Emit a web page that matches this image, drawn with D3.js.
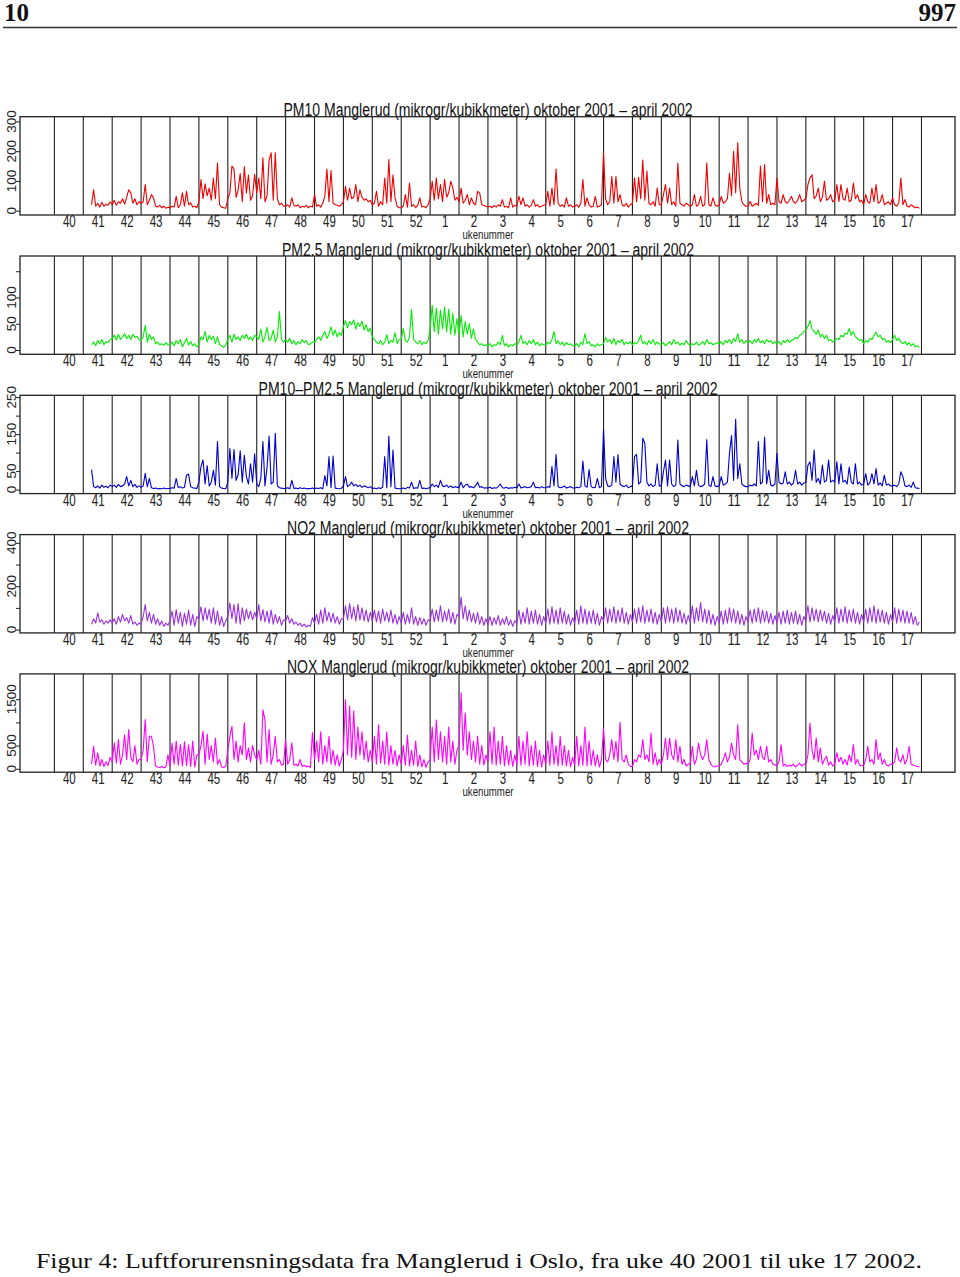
<!DOCTYPE html>
<html><head><meta charset="utf-8">
<script src="https://cdn.jsdelivr.net/npm/d3@7"></script>
<style>
html,body{margin:0;padding:0;background:#fff;}
svg{display:block;}
</style></head>
<body>
<svg id="chart" width="960" height="1277"></svg>
<script>
// ---------- DATA (half-day readings, first week starts mid-week) ----------
const weekLabels = [40,41,42,43,44,45,46,47,48,49,50,51,52,1,2,3,4,5,6,7,8,9,10,11,12,13,14,15,16,17];

const pm10 = [
20,70,15,25,12,28,15,22,18,30,
20,35,18,30,25,40,22,45,70,60,25,40,20,30,
25,30,88,20,35,54,43,15,12,18,10,15,8,12,
10,15,12,48,10,20,60,15,65,20,26,12,15,10,
30,105,40,90,50,76,35,110,40,160,20,12,10,8,
40,60,150,140,45,70,125,30,148,60,120,35,50,122,
60,110,40,178,30,50,170,195,35,195,40,20,25,15,
15,20,12,43,18,15,20,10,15,12,18,10,15,12,
54,15,20,12,25,48,140,30,135,25,20,18,15,20,
30,82,35,76,40,45,88,30,70,45,35,40,30,35,
20,25,65,15,30,20,110,25,172,30,120,43,15,10,
10,15,54,12,93,15,20,10,18,43,12,15,10,20,
40,99,35,110,40,88,30,105,45,60,99,76,35,45,
30,76,25,35,54,20,43,25,20,65,60,20,18,15,
12,15,10,18,12,20,15,37,12,15,10,43,12,18,
15,48,20,43,15,20,12,18,37,15,20,12,15,18,
20,65,15,76,20,140,25,15,20,12,43,15,20,12,
15,20,12,25,105,15,43,20,12,15,48,12,15,20,
195,40,20,30,115,25,115,30,54,20,15,25,12,20,
25,110,30,112,40,170,35,133,25,20,30,15,76,20,
20,54,88,25,76,20,30,15,160,25,20,15,25,20,
15,20,54,15,20,48,15,20,160,20,15,43,20,15,
20,48,25,30,40,126,50,200,60,228,76,30,20,15,
15,31,15,20,25,18,150,30,155,25,54,20,25,20,
110,30,25,54,30,25,35,48,30,25,35,54,30,35,
40,88,110,121,40,50,76,30,45,99,35,40,54,30,
35,88,30,88,40,35,76,30,35,93,40,54,30,35,
20,54,30,25,76,30,88,25,30,54,20,25,30,20,
43,20,15,25,110,20,37,15,12,20,15,10,12,8];

const pm25 = [
10,15,8,18,12,20,10,16,14,20,
22,28,19,30,20,25,31,22,28,20,30,24,26,20,
18,25,47,15,30,20,25,12,15,10,12,9,14,10,
10,15,8,18,12,20,6,14,22,10,16,8,12,6,
10,25,20,35,15,28,20,26,12,25,10,8,5,10,
20,28,15,30,20,25,18,28,22,30,20,25,18,28,
25,20,40,15,25,43,18,22,38,15,25,73,20,15,
20,15,22,12,18,10,16,12,20,14,18,10,12,15,
15,20,25,18,28,35,22,30,44,28,38,25,33,28,
45,56,42,54,48,57,40,52,45,55,38,48,35,42,
25,20,15,12,18,10,15,29,12,18,15,33,12,20,
20,41,18,15,25,77,20,15,12,18,10,15,12,18,
40,85,35,80,30,76,40,82,35,78,30,70,28,60,
30,66,25,54,30,50,22,40,20,15,10,12,8,10,
8,12,6,10,9,15,10,28,8,12,6,10,8,12,
10,15,28,12,16,10,18,12,20,10,15,8,12,10,
10,15,12,20,35,12,18,10,15,8,14,10,12,8,
8,12,6,15,10,31,12,16,8,10,6,12,8,10,
12,24,15,20,12,22,10,18,14,20,10,15,12,16,
10,14,12,18,28,12,16,10,18,12,20,10,15,12,
10,14,8,12,16,10,20,12,15,9,13,10,18,12,
8,12,10,15,9,12,16,10,20,12,14,10,12,14,
12,16,10,18,14,20,12,22,16,31,15,20,12,18,
14,18,12,20,15,22,14,18,12,20,15,18,12,16,
12,16,10,18,14,20,15,18,20,24,22,28,30,35,
38,45,56,40,35,30,38,25,30,22,28,18,20,15,
18,22,20,28,25,32,30,41,28,35,25,22,18,20,
12,18,15,22,20,28,34,25,28,20,22,15,18,14,
20,28,18,22,15,12,16,10,14,8,12,6,8,5];

const pmCoarse = [
54,8,5,10,4,12,6,9,5,12,
8,12,6,14,8,10,15,35,10,25,8,14,6,10,
6,10,44,8,30,5,3,4,2,3,2,4,2,3,
3,5,4,30,5,8,4,6,39,42,8,5,4,3,
20,62,80,15,65,10,20,52,12,130,8,4,3,2,
20,111,30,108,25,40,105,20,93,35,15,70,20,97,
15,8,30,130,10,60,145,15,20,152,10,5,4,3,
3,5,2,25,3,4,2,5,3,4,2,3,2,4,
2,4,3,5,2,38,10,89,5,91,4,3,2,3,
10,35,8,12,20,10,14,8,12,6,10,8,5,8,
3,4,2,5,3,6,89,5,145,8,107,4,3,2,
3,4,2,6,4,20,3,5,4,25,3,4,2,4,
5,15,8,12,6,25,10,8,12,6,10,5,8,6,
6,20,5,12,15,6,8,5,10,20,6,8,4,5,
4,6,3,5,4,8,15,5,4,6,3,5,4,6,
5,15,4,6,8,5,6,8,20,5,6,4,8,5,
5,8,6,62,10,95,8,5,6,10,4,6,8,5,
4,6,5,8,77,10,6,54,8,5,6,30,5,8,
163,30,10,8,12,89,20,95,15,10,8,12,5,8,
10,89,95,15,20,139,125,20,10,15,8,12,70,10,
10,48,80,10,80,15,8,12,134,15,10,8,12,10,
8,35,10,52,12,8,10,15,135,12,8,35,10,8,
10,35,12,15,20,98,146,25,190,30,70,15,10,8,
8,12,10,15,10,130,15,20,142,15,52,12,10,15,
98,20,15,18,48,15,20,12,18,52,15,20,12,18,
20,66,75,25,107,20,30,15,66,20,25,80,20,25,
20,75,15,70,20,25,15,61,20,15,70,15,20,12,
15,43,12,18,43,15,57,12,18,10,39,12,15,10,
10,12,8,15,48,35,10,8,12,6,20,5,4,3];

const no2 = [
25,50,30,77,35,45,25,40,30,45,
30,50,25,60,35,70,40,55,30,65,25,35,20,30,
25,60,115,40,80,30,70,25,50,20,40,15,30,20,
40,85,20,92,30,80,15,75,25,90,20,70,15,60,
50,105,40,100,45,95,30,100,25,85,20,60,15,40,
60,123,50,115,30,120,25,100,40,95,50,85,45,80,
50,115,40,92,35,85,30,90,25,70,30,60,20,45,
40,65,30,50,25,35,20,30,15,25,12,20,15,55,
30,70,25,90,30,100,40,80,35,75,30,60,25,50,
50,110,45,120,50,105,40,115,45,100,40,90,35,80,
40,90,35,85,30,95,40,80,35,90,30,70,25,60,
30,80,25,70,30,100,25,60,20,55,25,50,20,45,
40,95,35,90,40,110,35,85,40,95,30,80,25,70,
60,150,50,110,40,90,35,75,30,80,25,60,20,50,
25,60,20,55,25,65,20,50,25,60,20,45,15,40,
30,90,25,80,30,100,25,85,30,90,25,70,20,60,
30,95,25,105,30,90,25,100,30,85,25,70,20,55,
30,90,25,110,30,95,25,85,30,90,25,75,20,60,
40,100,30,95,35,105,30,90,35,100,30,80,25,70,
35,95,30,100,35,110,30,90,35,95,30,80,25,70,
35,100,30,105,35,95,30,100,35,90,30,75,25,65,
35,110,30,100,40,125,35,95,30,90,25,70,20,60,
30,85,25,90,30,100,35,95,30,85,25,70,20,60,
35,90,30,95,35,100,30,90,35,85,30,75,25,65,
30,80,25,85,30,90,25,80,30,85,25,70,20,60,
40,110,35,100,40,95,35,90,40,85,30,75,25,65,
35,100,30,95,35,105,30,90,35,95,30,80,25,70,
35,95,30,100,35,110,30,95,35,90,30,80,25,70,
35,100,30,95,35,90,30,85,30,80,25,60,20,35];

const nox = [
100,486,80,343,60,200,50,150,70,250,
150,560,120,630,100,300,735,200,845,250,150,500,100,200,
200,400,1059,150,700,700,486,60,40,30,50,25,40,300,
60,550,100,600,80,530,60,580,70,520,50,600,40,300,
300,500,810,100,750,200,500,150,665,100,200,40,30,50,
400,700,916,200,600,150,500,300,990,200,450,150,500,300,
200,400,100,1270,1059,150,845,100,300,700,150,200,80,100,
630,100,200,560,80,100,60,200,50,80,40,60,30,780,
200,600,150,800,100,500,150,700,100,400,80,300,60,200,
400,1490,300,1350,250,1250,200,900,300,800,200,600,150,400,
150,700,100,950,120,600,100,800,80,500,100,400,60,300,
100,500,80,730,60,400,80,600,50,300,40,200,30,150,
200,900,150,1050,200,800,150,700,100,900,150,600,100,400,
500,1640,400,1200,300,800,200,600,150,700,100,500,80,300,
150,800,100,900,80,600,100,700,60,500,80,400,50,300,
100,700,80,600,100,800,60,500,80,600,50,400,40,300,
100,600,80,800,100,500,60,700,80,500,60,400,40,250,
80,700,60,500,80,900,60,600,80,400,60,300,40,200,
870,200,150,300,629,200,590,150,1000,200,150,300,100,50,
50,200,150,300,250,629,200,300,150,773,100,343,80,200,
100,300,660,200,660,300,200,629,150,486,100,200,60,100,
100,486,100,200,557,300,200,300,629,200,100,50,40,60,
60,100,200,343,150,250,557,300,200,950,200,150,100,120,
100,200,773,300,400,200,486,250,200,486,150,200,100,80,
80,150,520,60,100,50,80,60,100,40,80,120,60,100,
100,300,985,400,200,665,150,450,100,200,270,80,150,60,
100,343,150,250,100,200,80,300,150,520,100,200,80,60,
80,200,486,150,200,100,629,200,343,100,200,80,60,100,
100,150,450,200,150,300,100,200,486,100,80,60,50,40];

const titles = [
 "PM10 Manglerud (mikrogr/kubikkmeter) oktober 2001 \u2013 april 2002",
 "PM2.5 Manglerud (mikrogr/kubikkmeter) oktober 2001 \u2013 april 2002",
 "PM10\u2013PM2.5 Manglerud (mikrogr/kubikkmeter) oktober 2001 \u2013 april 2002",
 "NO2 Manglerud (mikrogr/kubikkmeter) oktober 2001 \u2013 april 2002",
 "NOX Manglerud (mikrogr/kubikkmeter) oktober 2001 \u2013 april 2002"];
const titleWidths = [409, 412, 459, 402, 402];
const seriesList = [pm10, pm25, pmCoarse, no2, nox];
const colors = ["#ee0000", "#00ee00", "#0000cc", "#9b30e0", "#ff00ff"];
const yDomains = [[-14.5, 316], [-8.2, 179], [-10.9, 255], [-15.2, 438], [-73, 2045]];
const yTicks = [[0,100,200,300],[0,50,100,150],[0,50,100,150,200,250],[0,100,200,300,400],[0,500,1000,1500]];
const yTickLabels = [[0,100,200,300],[0,50,100],[0,50,150,250],[0,200,400],[0,500,1500]];

// ---------- LAYOUT ----------
const svg = d3.select("#chart");
const left = 20, right = 955;
const firstTop = 116.7, panelStep = 139.3, panelH = 98.3;
const startWeek = 1 + 4/14;   // data starts mid-week 41
const perWeek = 14;

const x = d3.scaleLinear().domain([-1.19, 31.16]).range([left, right]);
const narrow = "'Liberation Sans Narrow','Arial Narrow','Liberation Sans',sans-serif";

// header
svg.append("text").attr("x", 4).attr("y", 21).attr("font-family", "'Liberation Serif','DejaVu Serif',serif")
  .attr("font-weight", "bold").attr("font-size", 25).attr("fill", "#111").text("10");
svg.append("text").attr("x", 956).attr("y", 21).attr("text-anchor", "end").attr("font-family", "'Liberation Serif','DejaVu Serif',serif")
  .attr("font-weight", "bold").attr("font-size", 25).attr("fill", "#111").text("997");
svg.append("line").attr("x1", 3).attr("x2", 957).attr("y1", 27.5).attr("y2", 27.5).attr("stroke", "#333").attr("stroke-width", 1.3);

seriesList.forEach((data, p) => {
  const top = firstTop + p * panelStep, bottom = top + panelH;
  const y = d3.scaleLinear().domain(yDomains[p]).range([bottom, top]);
  const g = svg.append("g");

  // week separators
  g.selectAll("line.wk").data(d3.range(0, 31)).enter().append("line")
    .attr("x1", d => x(d)).attr("x2", d => x(d)).attr("y1", top).attr("y2", bottom)
    .attr("stroke", "#222").attr("stroke-width", 1.1);

  // series line
  const line = d3.line().x((d, i) => x(startWeek + i / perWeek)).y(d => y(d));
  g.append("path").datum(data).attr("d", line).attr("fill", "none")
    .attr("stroke", colors[p]).attr("stroke-width", 1.1).attr("stroke-linejoin", "round");

  // box
  g.append("rect").attr("x", left).attr("y", top).attr("width", right - left).attr("height", panelH)
    .attr("fill", "none").attr("stroke", "#222").attr("stroke-width", 1.3);

  // y axis ticks
  const ya = g.append("g").attr("transform", `translate(${left},0)`)
    .call(d3.axisLeft(y).tickValues(yTicks[p]).tickSize(4).tickFormat(""));
  ya.select(".domain").remove();
  ya.selectAll("line").attr("stroke", "#222");
  // y labels (rotated)
  g.selectAll("text.yl").data(yTickLabels[p]).enter().append("text")
    .attr("transform", d => `translate(16,${y(d)}) rotate(-90)`)
    .attr("text-anchor", "middle").attr("font-family", "'Liberation Sans',Arial,sans-serif")
    .attr("font-size", 13.5).attr("fill", "#222").text(d => d);

  // week labels
  const xa = g.append("g").attr("transform", `translate(0,${bottom})`)
    .call(d3.axisBottom(x).tickValues(d3.range(0, 30).map(k => k + 0.5)).tickSize(0).tickPadding(2.5)
      .tickFormat((d, i) => weekLabels[i]));
  xa.select(".domain").remove();
  xa.selectAll("text").attr("font-family", narrow).attr("font-size", 16).attr("fill", "#222")
    .attr("dy", "0.6em")
    .attr("textLength", (d, i) => String(weekLabels[i]).length * 6.4).attr("lengthAdjust", "spacingAndGlyphs");

  g.append("text").attr("x", 488).attr("y", bottom + 24).attr("text-anchor", "middle")
    .attr("font-family", narrow).attr("font-size", 12).attr("fill", "#222")
    .attr("textLength", 51).attr("lengthAdjust", "spacingAndGlyphs").text("ukenummer");

  // title
  g.append("text").attr("x", 488).attr("y", top - 0.5).attr("text-anchor", "middle")
    .attr("font-family", narrow).attr("font-size", 18).attr("fill", "#111")
    .attr("textLength", titleWidths[p]).attr("lengthAdjust", "spacingAndGlyphs").text(titles[p]);
});

// caption
svg.append("text").attr("x", 36).attr("y", 1268).attr("font-family", "'Liberation Serif','DejaVu Serif',serif")
  .attr("font-size", 22).attr("fill", "#111").attr("textLength", 886).attr("lengthAdjust", "spacingAndGlyphs")
  .text("Figur 4: Luftforurensningsdata fra Manglerud i Oslo, fra uke 40 2001 til uke 17 2002.");
</script>
</body></html>
